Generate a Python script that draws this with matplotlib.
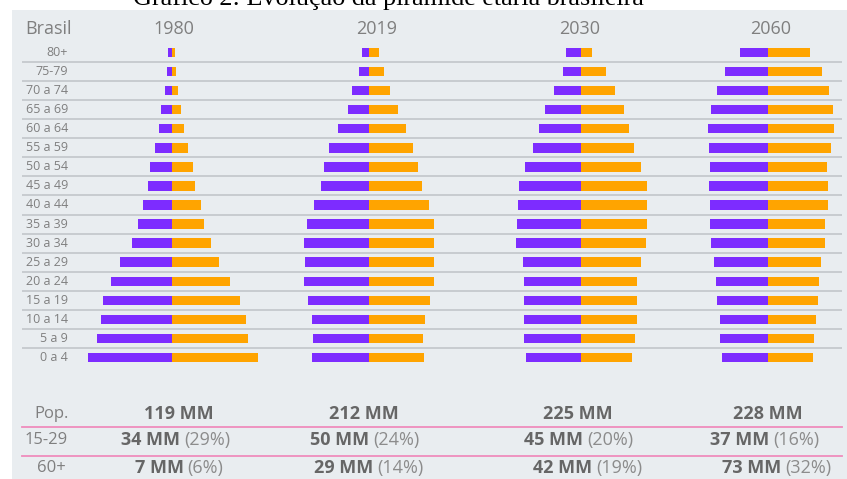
import matplotlib
matplotlib.use("Agg")
import matplotlib.pyplot as plt
from matplotlib import transforms
from matplotlib.patches import Rectangle
from matplotlib.lines import Line2D

# ---------------- data ----------------
ages = ["0 a 4", "5 a 9", "10 a 14", "15 a 19", "20 a 24", "25 a 29", "30 a 34",
        "35 a 39", "40 a 44", "45 a 49", "50 a 54", "55 a 59", "60 a 64",
        "65 a 69", "70 a 74", "75-79", "80+"]
years = ["1980", "2019", "2030", "2060"]

# relative bar lengths (purple = left, orange = right), from 0 a 4 up to 80+
left_1980 = [8.46, 7.50, 7.10, 6.93, 6.13, 5.20, 4.03, 3.43, 2.93, 2.43, 2.23, 1.76, 1.33, 1.16, 0.73, 0.56, 0.40]
right_1980 = [8.57, 7.57, 7.37, 6.80, 5.80, 4.64, 3.90, 3.14, 2.87, 2.27, 2.10, 1.57, 1.17, 0.90, 0.54, 0.37, 0.24]
left_2019 = [5.67, 5.60, 5.67, 6.07, 6.47, 6.37, 6.47, 6.23, 5.53, 4.83, 4.53, 3.97, 3.13, 2.13, 1.70, 1.03, 0.70]
right_2019 = [5.47, 5.40, 5.60, 6.07, 6.47, 6.47, 6.47, 6.47, 6.00, 5.33, 4.87, 4.43, 3.73, 2.90, 2.10, 1.47, 1.00]
left_2030 = [5.53, 5.67, 5.73, 5.67, 5.70, 5.83, 6.53, 6.43, 6.30, 6.23, 5.57, 4.77, 4.17, 3.63, 2.73, 1.83, 1.53]
right_2030 = [5.13, 5.37, 5.63, 5.57, 5.57, 6.03, 6.50, 6.60, 6.60, 6.57, 6.00, 5.27, 4.83, 4.30, 3.40, 2.50, 1.10]
left_2060 = [4.60, 4.77, 4.80, 5.10, 5.17, 5.37, 5.63, 5.80, 5.80, 5.83, 5.80, 5.87, 5.93, 5.63, 5.03, 4.30, 2.77]
right_2060 = [4.53, 4.67, 4.87, 5.00, 5.17, 5.37, 5.73, 5.77, 6.00, 6.07, 5.93, 6.30, 6.60, 6.50, 6.13, 5.40, 4.23]

pop_total = ["119 MM", "212 MM", "225 MM", "228 MM"]
young_mm = ["34 MM", "50 MM", "45 MM", "37 MM"]
young_pct = ["(29%)", "(24%)", "(20%)", "(16%)"]
old_mm = ["7 MM", "29 MM", "42 MM", "73 MM"]
old_pct = ["(6%)", "(14%)", "(19%)", "(32%)"]
row_labels = ["Pop.", "15-29", "60+"]
title = "Gráfico 2: Evolução da pirâmide etária brasileira"

lefts = [left_1980, left_2019, left_2030, left_2060]
rights = [right_1980, right_2019, right_2030, right_2060]

# ---------------- layout ----------------
W, H = 847, 479
fig = plt.figure(figsize=(W / 100, H / 100), dpi=100)
fig.patch.set_facecolor("white")
FONT = ["Open Sans", "DejaVu Sans"]
plt.rcParams["font.family"] = FONT

def fx(px):
    return px / W

def fy(py):
    return 1 - py / H

PURPLE = "#7d2cff"
ORANGE = "#ffa400"
GRAY = "#7f7f7f"
DARK = "#666666"

# panel background
fig.patches.append(Rectangle((fx(12), 0), 1 - fx(12), fy(10), transform=fig.transFigure,
                             facecolor="#e9edf0", edgecolor="none", zorder=-5))

y_top_px, y_bot_px = 42.8, 367.2
ax_bottom = fy(y_bot_px)
ax_height = (y_bot_px - y_top_px) / H

# background axes for separators
bg = fig.add_axes([fx(22), ax_bottom, fx(842) - fx(22), ax_height])
bg.set_ylim(-0.5, len(ages) - 0.5)
bg.set_xlim(0, 1)
bg.axis("off")
bg.patch.set_alpha(0)
for i in range(len(ages) - 1):
    bg.axhline(i + 0.5, color="#c5c9cd", lw=1.3, zorder=1)

# age labels
tr = transforms.blended_transform_factory(fig.transFigure, bg.transData)
for i, a in enumerate(ages):
    fig.text(fx(68), i, a, transform=tr, ha="right", va="center",
             fontsize=9, color=GRAY)

centers = [172.3, 369.0, 581.0, 767.7]
half = 90
yidx = list(range(len(ages)))
for c, L, R in zip(centers, lefts, rights):
    ax = fig.add_axes([fx(c - half), ax_bottom, 2 * half / W, ax_height])
    ax.set_xlim(-9, 9)
    ax.set_ylim(-0.5, len(ages) - 0.5)
    ax.axis("off")
    ax.patch.set_alpha(0)
    ax.barh(yidx, [-v for v in L], height=0.5, color=PURPLE, edgecolor="none", zorder=3)
    ax.barh(yidx, R, height=0.5, color=ORANGE, edgecolor="none", zorder=3)

# header
fig.text(fx(25), fy(29), "Brasil", ha="left", va="center", fontsize=13, color=GRAY)
for yr, cx in zip(years, [174, 376.7, 580, 771]):
    fig.text(fx(cx), fy(29), yr, ha="center", va="center", fontsize=13, color=GRAY)

# title (cut off at top, as in the source image)
t = fig.text(fx(388), fy(5.5), title, ha="center", va="baseline", fontsize=16,
             family=["Liberation Serif"], color="black")
fig.canvas.draw()
r = fig.canvas.get_renderer()
w = t.get_window_extent(r).width
t.set_fontsize(16 * 510 / w)

# bottom table
for lab, cx, cy in zip(row_labels, [51.5, 46.5, 51.0], [414, 440, 468]):
    fig.text(fx(cx), fy(cy), lab, ha="center", va="center", fontsize=12, color=GRAY)

VS = 13
for s, cx in zip(pop_total, [179, 364, 578, 768]):
    fig.text(fx(cx), fy(414), s, ha="center", va="center", fontsize=VS,
             fontweight="bold", color=DARK)

def composite(bold, normal, cx, cy):
    tb = fig.text(0, fy(cy), bold, ha="left", va="center", fontsize=VS,
                  fontweight="bold", color=DARK)
    tn = fig.text(0, fy(cy), normal, ha="left", va="center", fontsize=VS,
                  color="#8c8c8c")
    fig.canvas.draw()
    rr = fig.canvas.get_renderer()
    wb = tb.get_window_extent(rr).width
    wn = tn.get_window_extent(rr).width
    gap = 4
    x0 = cx - (wb + gap + wn) / 2
    tb.set_x(fx(x0))
    tn.set_x(fx(x0 + wb + gap))

for b, n, cx in zip(young_mm, young_pct, [176, 365, 579, 765]):
    composite(b, n, cx, 440)
for b, n, cx in zip(old_mm, old_pct, [179, 369, 588, 777]):
    composite(b, n, cx, 468)

for py in [427.3, 455.7]:
    fig.add_artist(Line2D([fx(22), fx(842)], [fy(py), fy(py)], transform=fig.transFigure,
                          color="#ef8cbc", lw=1.3))

fig.savefig("out.png", dpi=100)
